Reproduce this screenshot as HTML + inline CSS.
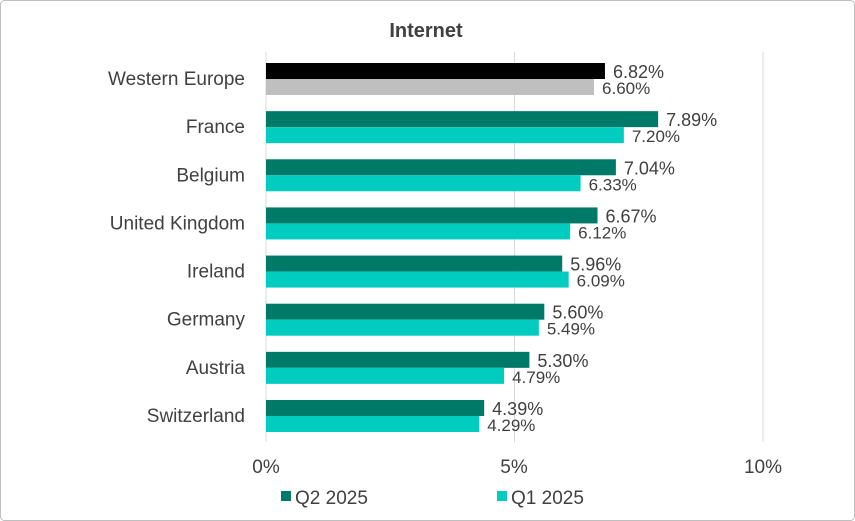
<!DOCTYPE html>
<html><head><style>
body{margin:0;background:#fff;}
svg{display:block;font-family:"Liberation Sans",sans-serif;}
</style></head><body>
<svg width="855" height="521" viewBox="0 0 855 521">
<rect x="0.5" y="0.5" width="854" height="520" rx="4" fill="#fff" stroke="#bfbfbf"/>
<text x="426" y="37" text-anchor="middle" font-size="20" font-weight="bold" fill="#404040">Internet</text>
<g stroke="#d9d9d9" stroke-width="1">
<line x1="266" y1="52" x2="266" y2="442"/>
<line x1="514.5" y1="52" x2="514.5" y2="442"/>
<line x1="763" y1="52" x2="763" y2="442"/>
</g>
<g font-size="19" fill="#404040" text-anchor="middle">
<text x="266" y="473">0%</text><text x="514" y="473">5%</text><text x="763" y="473">10%</text>
</g>
<g id="bars"></g>
<rect x="281" y="491" width="10" height="10" fill="#007a68"/>
<text x="295" y="504" font-size="19" fill="#404040">Q2 2025</text>
<rect x="497" y="491" width="10" height="10" fill="#00ccbf"/>
<text x="511" y="504" font-size="19" fill="#404040">Q1 2025</text>
</svg>
<script>
var d=[["Western Europe",6.82,6.60],["France",7.89,7.20],["Belgium",7.04,6.33],["United Kingdom",6.67,6.12],["Ireland",5.96,6.09],["Germany",5.60,5.49],["Austria",5.30,4.79],["Switzerland",4.39,4.29]];
var g=document.getElementById('bars'),s='';
d.forEach(function(r,i){
var y=63+i*48.14,c1=i?"#007a68":"#000",c2=i?"#00ccbf":"#bfbfbf";
var w1=r[1]*49.7,w2=r[2]*49.7;
s+='<rect x="266" y="'+y+'" width="'+w1+'" height="16" fill="'+c1+'"/>';
s+='<rect x="266" y="'+(y+16)+'" width="'+w2+'" height="16" fill="'+c2+'"/>';
s+='<text x="245" y="'+(y+22)+'" text-anchor="end" font-size="19" fill="#404040">'+r[0]+'</text>';
s+='<text x="'+(274+w1)+'" y="'+(y+15)+'" font-size="18" fill="#404040">'+r[1].toFixed(2)+'%</text>';
s+='<text x="'+(274+w2)+'" y="'+(y+31)+'" font-size="17" fill="#404040">'+r[2].toFixed(2)+'%</text>';
});
g.innerHTML=s;
</script>
</body></html>
